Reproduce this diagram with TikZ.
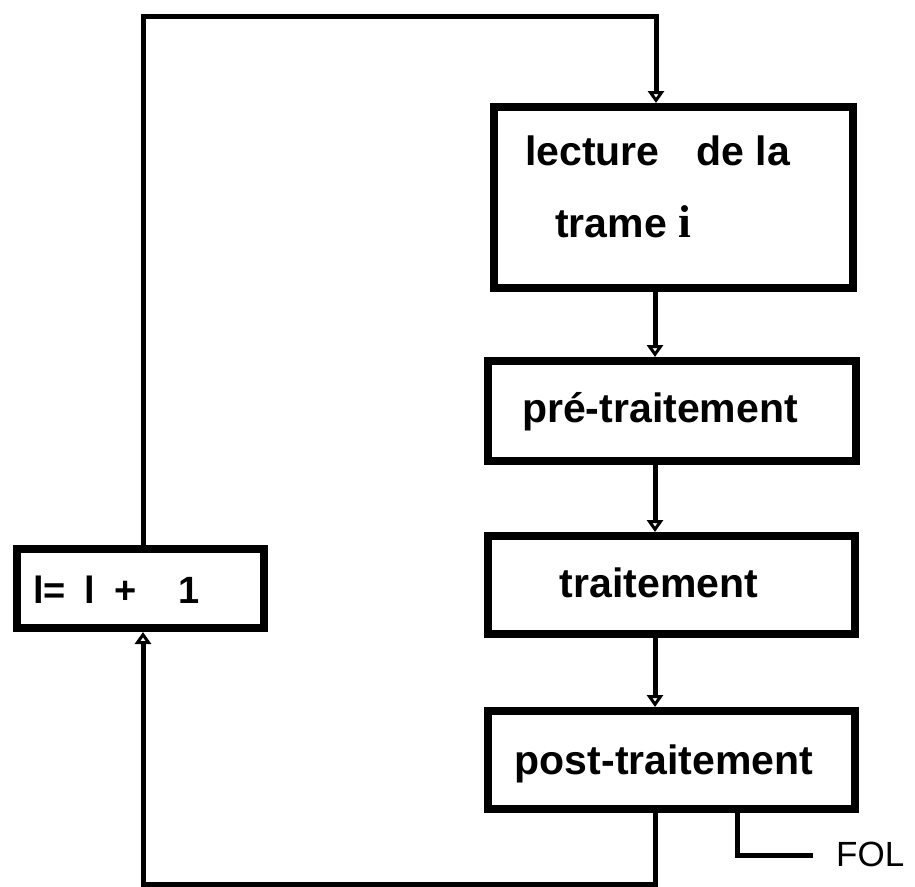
\documentclass[tikz,border=0pt]{standalone}
\usepackage{fontspec}
\setmainfont{Liberation Sans}
\newfontfamily\serifi{Liberation Serif}
\usetikzlibrary{arrows.meta}
\begin{document}
\begin{tikzpicture}[x=1pt,y=-1pt,
  box/.style={draw, line width=8pt, inner sep=0pt},
  lbl/.style={font=\fontsize{41}{48}\selectfont\bfseries, inner sep=0pt},
  conn/.style={line width=5pt},
  tip/.style={-{Triangle[open,length=12pt,width=16pt,line width=3pt]}}]
\useasboundingbox (0,0) rectangle (915,886);
\node[box, minimum width=359pt, minimum height=181pt] (b1) at (673.5,197.5) {};
\node[lbl, anchor=base west] (t1a) at (525,165) {lecture\hspace{0.9em}de la};
\node[lbl, anchor=base west] (t1b) at (555,237) {trame {\serifi\bfseries\fontsize{46}{50}\selectfont i}};
\node[box, minimum width=368pt, minimum height=100pt] (b2) at (672,411) {};
\node[lbl, anchor=base] (t2) at (660,422) {pré-traitement};
\node[box, minimum width=367pt, minimum height=98pt] (b3) at (671.5,585) {};
\node[lbl, anchor=base] (t3) at (659,597) {traitement};
\node[box, minimum width=367pt, minimum height=98pt] (b4) at (671.5,760) {};
\node[lbl, anchor=base] (t4) at (664,774) {post-traitement};
\node[box, minimum width=247pt, minimum height=79pt] (bi) at (140.5,588.5) {};
\node[font=\fontsize{38}{44}\selectfont\bfseries, anchor=base west, inner sep=0pt] (ti) at (33,603) {l=\hspace{0.5em}l\hspace{0.5em}+\hspace{1.1em}1};
\node[font=\fontsize{35}{40}\selectfont, anchor=base west, inner sep=0pt] (fol) at (836,866) {FOL};
\coordinate (c1) at (143,16);
\coordinate (c2) at (656,16);
\coordinate (c3) at (655,884);
\coordinate (c4) at (143,884);
\coordinate (f1) at (737,855);
\coordinate (f2) at (813,855);
\draw[conn, tip] (bi.north -| c1) -- (c1) -- (c2) -- (b1.north -| c2);
\draw[conn, tip] (b1.south -| c3) -- (b2.north -| c3);
\draw[conn, tip] (b2.south -| c3) -- (b3.north -| c3);
\draw[conn, tip] (b3.south -| c3) -- (b4.north -| c3);
\draw[conn, tip] (b4.south -| c3) -- (c3) -- (c4) -- (bi.south -| c4);
\draw[conn] (b4.south -| f1) -- (f1) -- (f2);
\end{tikzpicture}
\end{document}
